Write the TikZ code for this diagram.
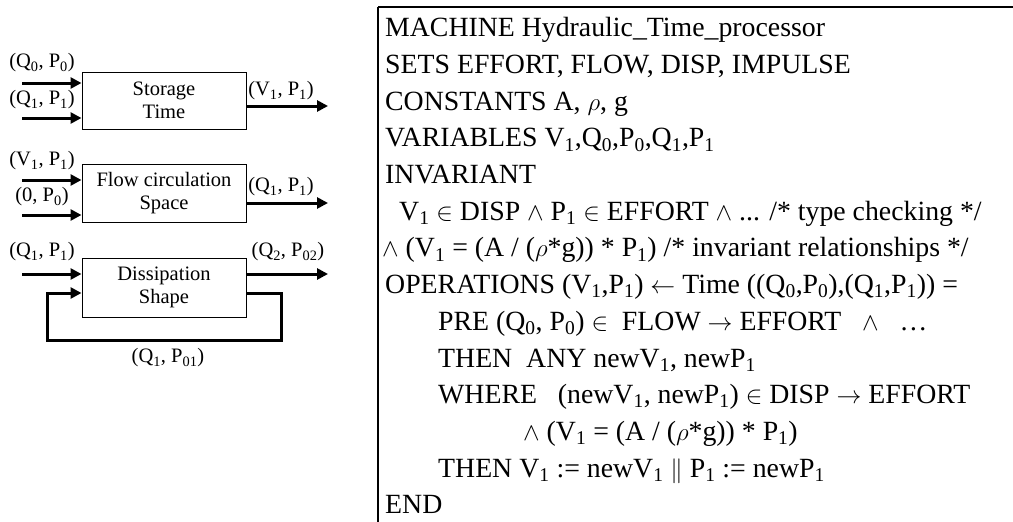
\documentclass[tikz,border=0pt]{standalone}
\usepackage{fontspec}
\setmainfont{Liberation Serif}
\usetikzlibrary{arrows.meta}
\newcommand{\subx}[1]{\textsubscript{#1}}
\begin{document}
\begin{tikzpicture}[x=1pt,y=-1pt,
  blk/.style={draw, line width=1pt, minimum width=164pt, minimum height=57pt, align=center,
    font=\fontsize{20.5}{23.5}\selectfont, inner sep=0pt},
  flowarrow/.style={line width=3pt, -{Triangle[length=11pt,width=11pt]}},
  lbl/.style={font=\fontsize{20.5}{23.5}\selectfont, inner sep=0pt},
  code/.style={anchor=base west, inner sep=0pt, font=\fontsize{27.8}{32}\selectfont}]
\useasboundingbox (0,0) rectangle (1013,522);

% ---------- left block diagram ----------
\node[blk] (b1) at (164,100.5) {Storage\\Time};
\node[blk, minimum height=58pt] (b2) at (164,193) {Flow circulation\\Space};
\node[blk, minimum height=59pt] (b3) at (164,287.5) {Dissipation\\Shape};

% box 1
\coordinate (i11) at (22,83);
\coordinate (i12) at (22,118);
\coordinate (o1) at (328,106);
\draw[flowarrow] (i11) -- (i11 -| b1.west);
\draw[flowarrow] (i12) -- (i12 -| b1.west);
\draw[flowarrow] (o1 -| b1.east) -- (o1);
\node[lbl] (l11) at (42,63) {(Q\subx{0}, P\subx{0})};
\node[lbl] (l12) at (42,100) {(Q\subx{1}, P\subx{1})};
\node[lbl] (l1o) at (281,91) {(V\subx{1}, P\subx{1})};

% box 2
\coordinate (i21) at (22,180);
\coordinate (i22) at (22,215);
\coordinate (o2) at (328,203);
\draw[flowarrow] (i21) -- (i21 -| b2.west);
\draw[flowarrow] (i22) -- (i22 -| b2.west);
\draw[flowarrow] (o2 -| b2.east) -- (o2);
\node[lbl] (l21) at (42,161) {(V\subx{1}, P\subx{1})};
\node[lbl] (l22) at (42,197) {(0, P\subx{0})};
\node[lbl] (l2o) at (281,187) {(Q\subx{1}, P\subx{1})};

% box 3
\coordinate (i31) at (22,274);
\coordinate (o3) at (328,274);
\coordinate (fy) at (0,293);
\coordinate (fbR) at (281,340);
\coordinate (fbL) at (47,340);
\draw[flowarrow] (i31) -- (i31 -| b3.west);
\draw[flowarrow] (o3 -| b3.east) -- (o3);
\draw[flowarrow] (fy -| b3.east) -- (fy -| fbR) -- (fbR) -- (fbL) -- (fy -| fbL) -- (fy -| b3.west);
\node[lbl] (l31) at (42,252) {(Q\subx{1}, P\subx{1})};
\node[lbl] (l3o) at (288,252) {(Q\subx{2}, P\subx{02})};
\node[lbl] (l3f) at (168,358) {(Q\subx{1}, P\subx{01})};

% ---------- right B machine ----------
\coordinate (fr1) at (378,522);
\coordinate (fr2) at (378,7);
\coordinate (fr3) at (1013,7);
\draw[line width=1.6pt] (fr1) -- (fr2);
\draw[line width=2.3pt] (fr2) -- (fr3);

\node[code] (c1)  at (385,36.7)  {MACHINE Hydraulic\_Time\_processor};
\node[code] (c2)  at (385,73.4)  {SETS EFFORT, FLOW, DISP, IMPULSE};
\node[code] (c3)  at (385,110.1) {CONSTANTS A, $\rho$, g};
\node[code] (c4)  at (385,146.8) {VARIABLES V\subx{1},Q\subx{0},P\subx{0},Q\subx{1},P\subx{1}};
\node[code] (c5)  at (385,183.5) {INVARIANT};
\node[code] (c6)  at (399,220.2) {V\subx{1} $\in$ DISP $\wedge$ P\subx{1} $\in$ EFFORT $\wedge$ ... /* type checking */};
\node[code] (c7)  at (382,256.9) {$\wedge$ (V\subx{1} = (A / ($\rho$*g)) * P\subx{1}) /* invariant relationships */};
\node[code] (c8)  at (385,293.6) {OPERATIONS (V\subx{1},P\subx{1}) $\leftarrow$ Time ((Q\subx{0},P\subx{0}),(Q\subx{1},P\subx{1})) =};
\node[code] (c9)  at (438,330.3) {PRE (Q\subx{0}, P\subx{0}) $\in$\ \ FLOW $\rightarrow$ EFFORT\ \ \ $\wedge$\ \ \ \ldots};
\node[code] (c10) at (438,367.0) {THEN\ \ ANY newV\subx{1}, newP\subx{1}};
\node[code] (c11) at (438,403.7) {WHERE\ \ \ (newV\subx{1}, newP\subx{1}) $\in$ DISP $\rightarrow$ EFFORT};
\node[code] (c12) at (523,440.4) {$\wedge$ (V\subx{1} = (A / ($\rho$*g)) * P\subx{1})};
\node[code] (c13) at (438,477.1) {THEN V\subx{1} := newV\subx{1} $\|$ P\subx{1} := newP\subx{1}};
\node[code] (c14) at (385,513.8) {END};
\end{tikzpicture}
\end{document}
